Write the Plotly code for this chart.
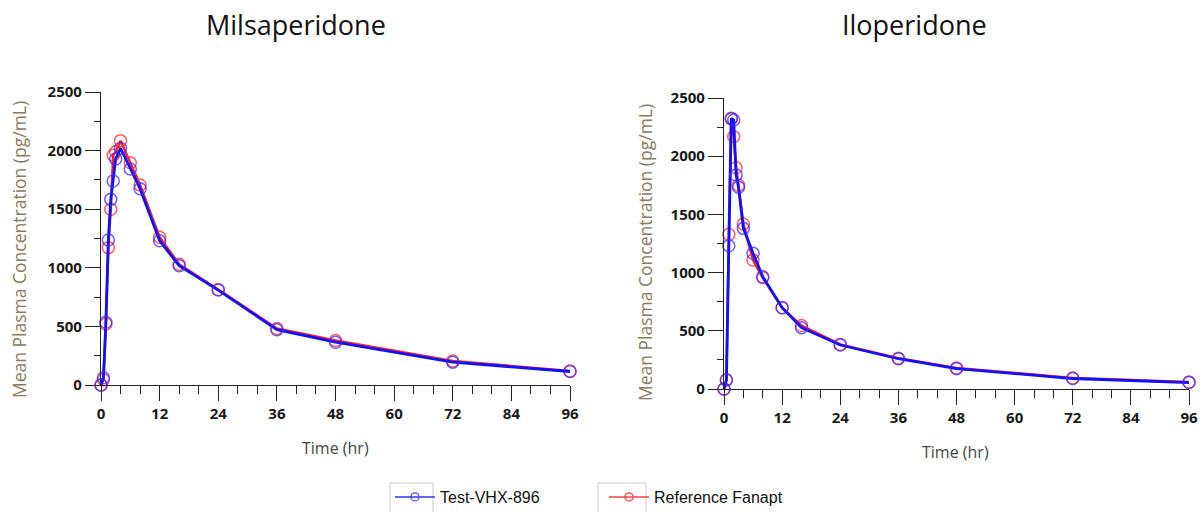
import plotly.graph_objects as go

# ---- data ----
mil_time = [0, 0.5, 1, 1.5, 2, 2.5, 3, 4, 6, 8, 12, 16, 24, 36, 48, 72, 96]
mil_test = [0, 62, 535, 1237, 1584, 1740, 1928, 2020, 1843, 1675, 1231, 1018, 810, 472, 365, 195, 115]
mil_ref = [0, 45, 520, 1172, 1500, 1960, 1990, 2085, 1897, 1706, 1260, 1030, 815, 482, 380, 205, 120]

ilo_time = [0, 0.5, 1, 1.5, 2, 2.5, 3, 4, 6, 8, 12, 16, 24, 36, 48, 72, 96]
ilo_test = [0, 77, 1231, 2325, 2311, 1838, 1733, 1380, 1166, 965, 698, 527, 378, 260, 175, 90, 55]
ilo_ref = [0, 80, 1329, 2320, 2168, 1901, 1750, 1418, 1108, 955, 698, 545, 383, 265, 180, 95, 60]

x_ticks = [0, 12, 24, 36, 48, 60, 72, 84, 96]
y_ticks = [0, 500, 1000, 1500, 2000, 2500]

titles = ["Milsaperidone", "Iloperidone"]
names = ["Test-VHX-896", "Reference Fanapt"]
y_title = "Mean Plasma Concentration (pg/mL)"
x_title = "Time (hr)"

W, H = 1203, 512

BLUE = "#1010ff"
RED = "#ff2020"

fig = go.Figure()

panels = [
    (mil_time, mil_test, mil_ref, "x", "y"),
    (ilo_time, ilo_test, ilo_ref, "x2", "y2"),
]
for i, (t, test, ref, xa, ya) in enumerate(panels):
    fig.add_trace(go.Scatter(
        x=t, y=ref, mode="lines+markers", name=names[1], xaxis=xa, yaxis=ya,
        line=dict(color=RED, width=2.5),
        marker=dict(symbol="circle-open", size=12, color="rgba(255,40,40,0.75)", line=dict(width=1.5)),
        cliponaxis=False, showlegend=False,
    ))
    fig.add_trace(go.Scatter(
        x=t, y=test, mode="lines+markers", name=names[0], xaxis=xa, yaxis=ya,
        line=dict(color=BLUE, width=2.8),
        marker=dict(symbol="circle-open", size=12, color="rgba(60,40,255,0.75)", line=dict(width=1.5)),
        cliponaxis=False, showlegend=False,
    ))

# legend-only entries (thinner style, as in the reference legend)
fig.add_trace(go.Scatter(
    x=[None], y=[None], mode="lines+markers", name=names[0],
    line=dict(color="#3030ff", width=1.5),
    marker=dict(symbol="circle-open", size=8, color="#5050ff", line=dict(width=1.3)),
    showlegend=True, legendrank=1,
))
fig.add_trace(go.Scatter(
    x=[None], y=[None], mode="lines+markers", name=names[1],
    line=dict(color="#ff4040", width=1.5),
    marker=dict(symbol="circle-open", size=8, color="#ff4040", line=dict(width=1.3)),
    showlegend=True, legendrank=2,
))

tickfont = dict(family="Open Sans", size=15, color="#1a1a1a", weight="bold")
xaxis_common = dict(
    range=[0, 96], tickvals=x_ticks, ticks="outside", ticklen=15, tickwidth=1.2,
    tickcolor="#222", showline=True, linecolor="#222", linewidth=1.2,
    showgrid=False, zeroline=False, tickfont=tickfont, automargin=False,
    minor=dict(dtick=4, tick0=0, ticks="outside", ticklen=8, tickwidth=1, tickcolor="#222"),
)
yaxis_common = dict(
    range=[0, 2500], tickvals=y_ticks, ticks="outside", ticklen=15, tickwidth=1.2,
    tickcolor="#222", showline=True, linecolor="#222", linewidth=1.2,
    showgrid=False, zeroline=False, tickfont=tickfont, automargin=False,
    minor=dict(dtick=250, tick0=0, ticks="outside", ticklen=6, tickwidth=1, tickcolor="#222"),
)

ytitle_font = dict(family="Open Sans", size=17.5, color="#8a7a5e")
xtitle_font = dict(family="Open Sans", size=16, color="#444")
title_font = dict(family="Open Sans", size=27, color="#111")

fig.update_layout(
    width=W, height=H,
    margin=dict(l=0, r=0, t=0, b=0, autoexpand=False),
    paper_bgcolor="white", plot_bgcolor="white",
    xaxis=dict(domain=[101 / W, 570 / W], anchor="y", **xaxis_common),
    yaxis=dict(domain=[1 - 385 / H, 1 - 92 / H], anchor="x", **yaxis_common),
    xaxis2=dict(domain=[724 / W, 1189 / W], anchor="y2", **xaxis_common),
    yaxis2=dict(domain=[1 - 389 / H, 1 - 98 / H], anchor="x2", **yaxis_common),
    showlegend=True,
    legend=dict(
        orientation="h", x=390 / W, y=1 - 497 / H, xanchor="left", yanchor="middle",
        font=dict(family="Liberation Sans", size=16, color="#111"),
        itemwidth=40, entrywidth=159, bgcolor="rgba(0,0,0,0)",
    ),
    annotations=[
        dict(text=titles[0], x=296 / W, y=1 - 24 / H, xref="paper", yref="paper",
             xanchor="center", yanchor="middle", showarrow=False, font=title_font),
        dict(text=titles[1], x=914 / W, y=1 - 24 / H, xref="paper", yref="paper",
             xanchor="center", yanchor="middle", showarrow=False, font=title_font),
        dict(text=y_title, x=19 / W, y=1 - 250 / H, xref="paper", yref="paper",
             xanchor="center", yanchor="middle", textangle=-90, showarrow=False, font=ytitle_font),
        dict(text=y_title, x=645 / W, y=1 - 253 / H, xref="paper", yref="paper",
             xanchor="center", yanchor="middle", textangle=-90, showarrow=False, font=ytitle_font),
        dict(text=x_title, x=335 / W, y=1 - 448 / H, xref="paper", yref="paper",
             xanchor="center", yanchor="middle", showarrow=False, font=xtitle_font),
        dict(text=x_title, x=956 / W, y=1 - 452 / H, xref="paper", yref="paper",
             xanchor="center", yanchor="middle", showarrow=False, font=xtitle_font),
    ],
    shapes=[
        dict(type="rect", xref="paper", yref="paper", x0=390 / W, x1=433 / W,
             y0=-0.05, y1=1 - 483 / H, line=dict(color="#cccccc", width=1)),
        dict(type="rect", xref="paper", yref="paper", x0=598 / W, x1=646 / W,
             y0=-0.05, y1=1 - 483 / H, line=dict(color="#cccccc", width=1)),
    ],
)

fig.write_html("out.html")
